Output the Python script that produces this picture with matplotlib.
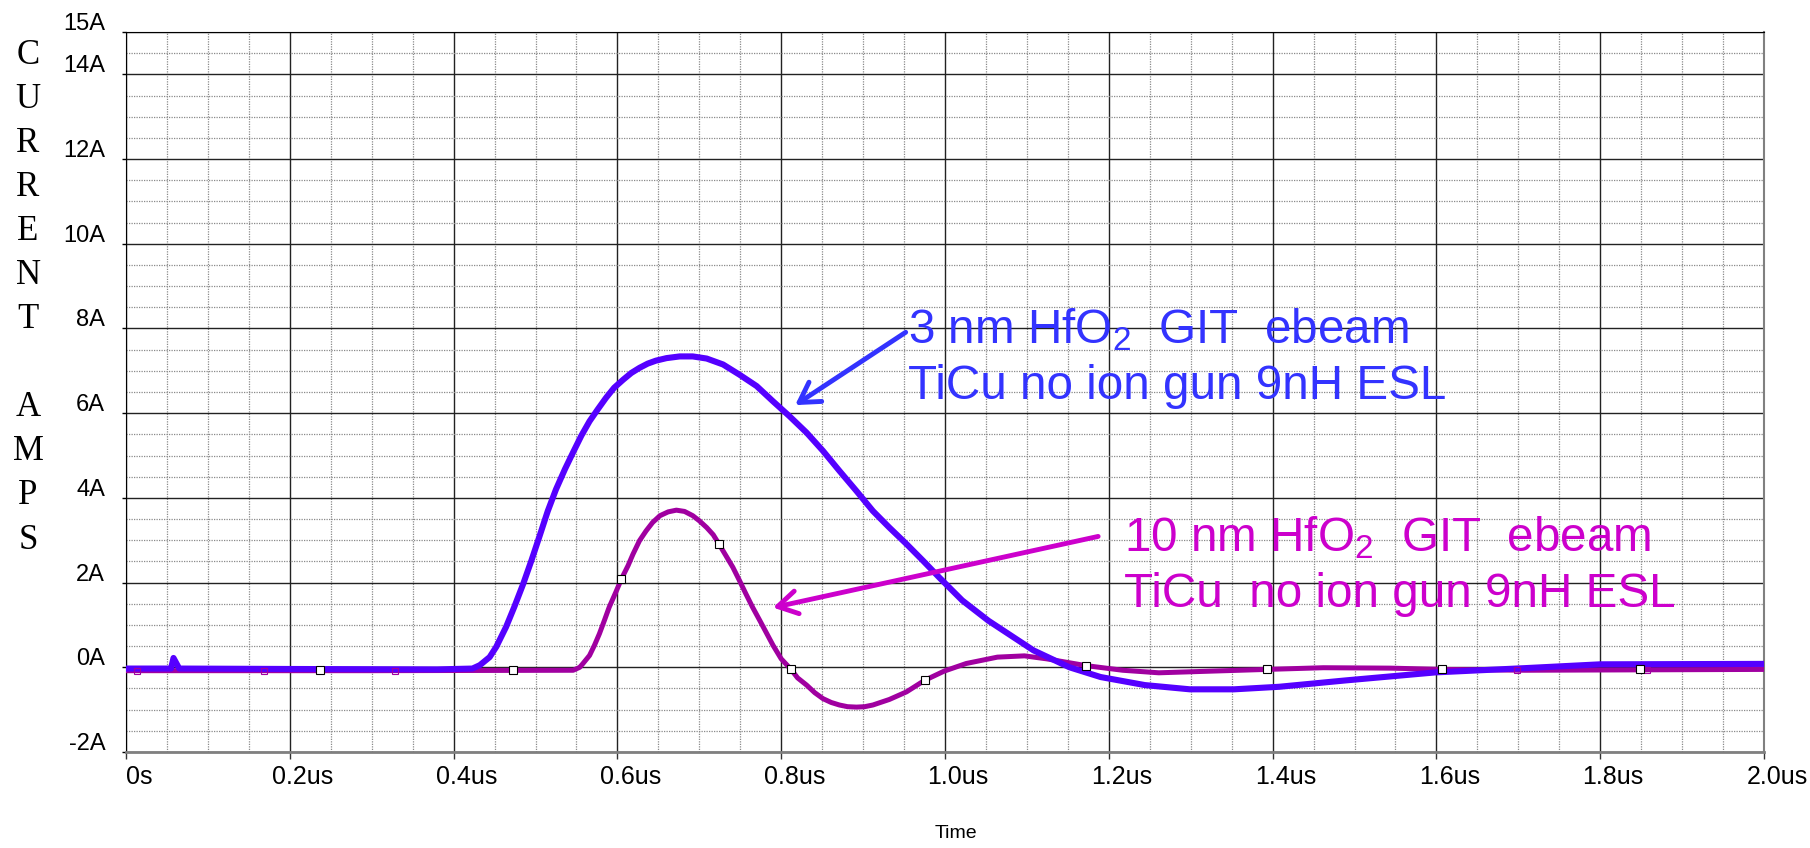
import matplotlib
matplotlib.use("Agg")
import matplotlib.pyplot as plt
from matplotlib.ticker import MultipleLocator
from matplotlib.transforms import ScaledTranslation

plt.rcParams["font.family"] = ["Liberation Sans", "DejaVu Sans"]
plt.rcParams["mathtext.default"] = "regular"

# 3 nm HfO2 trace: time (us), current (A)
t_3nm = [0.0, 0.055, 0.058, 0.065, 0.2, 0.38, 0.423, 0.432, 0.444, 0.452, 0.464,
         0.474, 0.485, 0.495, 0.505, 0.515, 0.525, 0.536, 0.546, 0.556, 0.566,
         0.576, 0.586, 0.596, 0.607, 0.617, 0.627, 0.637, 0.647, 0.660, 0.676,
         0.692, 0.709, 0.729, 0.749, 0.770, 0.790, 0.810, 0.831, 0.851, 0.871,
         0.892, 0.912, 0.932, 0.953, 0.973, 0.993, 1.021, 1.053, 1.108, 1.152,
         1.19, 1.244, 1.299, 1.353, 1.408, 1.489, 1.599, 1.708, 1.8, 2.0]
i_3nm = [-0.03, -0.03, 0.22, -0.03, -0.04, -0.05, -0.03, 0.05, 0.24, 0.48, 0.95,
         1.42, 1.97, 2.52, 3.1, 3.69, 4.2, 4.68, 5.08, 5.47, 5.81,
         6.09, 6.36, 6.6, 6.79, 6.95, 7.07, 7.17, 7.24, 7.30, 7.34,
         7.34, 7.29, 7.15, 6.91, 6.64, 6.28, 5.93, 5.54, 5.11, 4.64,
         4.16, 3.69, 3.30, 2.91, 2.52, 2.12, 1.58, 1.1, 0.4, 0.0,
         -0.23, -0.42, -0.52, -0.52, -0.46, -0.31, -0.12, -0.02, 0.07, 0.08]

# 10 nm HfO2 trace
t_10nm = [0.0, 0.3, 0.546, 0.554, 0.558, 0.566, 0.572, 0.578, 0.584, 0.590,
          0.598, 0.605, 0.613, 0.619, 0.627, 0.635, 0.643, 0.652, 0.662, 0.672,
          0.682, 0.692, 0.700, 0.709, 0.717, 0.724, 0.733, 0.741, 0.749, 0.757,
          0.765, 0.774, 0.782, 0.790, 0.800, 0.812, 0.820, 0.831, 0.841, 0.851,
          0.861, 0.871, 0.881, 0.892, 0.902, 0.912, 0.932, 0.953, 0.975, 0.999,
          1.026, 1.064, 1.097, 1.124, 1.172, 1.217, 1.261, 1.326, 1.393, 1.462,
          1.544, 1.607, 1.708, 2.0]
i_10nm = [-0.08, -0.08, -0.07, 0.0, 0.09, 0.28, 0.52, 0.79, 1.1, 1.42,
          1.77, 2.09, 2.4, 2.67, 2.99, 3.22, 3.42, 3.58, 3.67, 3.71,
          3.68, 3.58, 3.46, 3.30, 3.13, 2.91, 2.62, 2.36, 2.05, 1.73,
          1.42, 1.1, 0.81, 0.52, 0.2, -0.05, -0.25, -0.42, -0.6, -0.74,
          -0.83, -0.89, -0.93, -0.94, -0.93, -0.89, -0.76, -0.58, -0.31, -0.09,
          0.09, 0.24, 0.27, 0.2, 0.04, -0.07, -0.13, -0.09, -0.05, -0.01,
          -0.02, -0.05, -0.07, -0.05]

# probe markers
t_mark = [0.237, 0.472, 0.605, 0.724, 0.812, 0.975, 1.172, 1.393, 1.607, 1.848]
i_mark = [-0.07, -0.07, 2.09, 2.91, -0.05, -0.31, 0.04, -0.05, -0.05, -0.05]
t_mark2 = [0.013, 0.168, 0.328, 1.698, 1.857]
i_mark2 = [-0.08, -0.08, -0.08, -0.07, -0.06]

x_ticks = [0.0, 0.2, 0.4, 0.6, 0.8, 1.0, 1.2, 1.4, 1.6, 1.8, 2.0]
x_labels = ["0s", "0.2us", "0.4us", "0.6us", "0.8us", "1.0us", "1.2us",
            "1.4us", "1.6us", "1.8us", "2.0us"]
y_ticks = [-2, 0, 2, 4, 6, 8, 10, 12, 14, 15]
y_labels = ["-2A", "0A", "2A", "4A", "6A", "8A", "10A", "12A", "14A", "15A"]
y_title = "CURRENT AMPS"

BLUE = "#5500ff"
MAG = "#a000a0"
BLUE_TXT = "#3333ff"
MAG_TXT = "#cc00cc"

W, H = 1810, 848
fig = plt.figure(figsize=(W / 100, H / 100), dpi=100)
ax = fig.add_axes([126 / W, (H - 752) / H, (1764 - 126) / W, (752 - 32) / H])

ax.plot(t_10nm, i_10nm, color=MAG, lw=3.6, solid_joinstyle="round",
        solid_capstyle="butt", zorder=3)
ax.plot(t_3nm, i_3nm, color=BLUE, lw=4.4, solid_joinstyle="round",
        solid_capstyle="butt", zorder=4)
ax.plot(t_mark2, i_mark2, ls="none", marker="s", ms=5, mfc="none", mec=MAG,
        mew=0.8, zorder=5)
ax.plot(t_mark, i_mark, ls="none", marker="s", ms=5.5, mfc="white", mec="black",
        mew=0.8, zorder=6)

ax.set_xlim(0, 2.0)
ax.set_ylim(-2, 15)
ax.set_xticks(x_ticks, x_labels)
ax.set_yticks(y_ticks, y_labels)
ax.xaxis.set_minor_locator(MultipleLocator(0.05))
ax.yaxis.set_minor_locator(MultipleLocator(0.5))

ax.grid(which="major", color="#222222", lw=1.0, ls="-", zorder=0)
ax.grid(which="minor", color="#8a8a8a", lw=0.9, ls=(0, (1, 1)), zorder=0)
ax.set_axisbelow(True)

ax.tick_params(axis="x", which="major", length=5, width=1, color="#333333",
               labelsize=18, pad=4)
ax.tick_params(axis="y", which="major", length=3, width=1, labelsize=17, pad=12)
ax.tick_params(which="minor", length=0)

off = ScaledTranslation(13 / 100, 0, fig.dpi_scale_trans)
for lab in ax.get_xticklabels():
    lab.set_transform(lab.get_transform() + off)
up = ScaledTranslation(0, 2 / 100, fig.dpi_scale_trans)
for lab in ax.get_yticklabels():
    lab.set_verticalalignment("baseline")
    lab.set_transform(lab.get_transform() + up)

ax.spines["left"].set_color("black")
ax.spines["top"].set_color("black")
ax.spines["bottom"].set_color("#808080")
ax.spines["bottom"].set_linewidth(2)
ax.spines["right"].set_color("#808080")
ax.spines["right"].set_linewidth(1.5)

# vertical axis title, one letter per row
for k, ch in enumerate(y_title):
    if ch != " ":
        fig.text(28 / W, 1 - (55 + 44.1 * k) / H, ch, ha="center", va="center",
                 family="Liberation Serif", size=25)

fig.text(956 / W, 1 - 833 / H, "Time", ha="center", va="center", size=14)

# annotations
ax.text(0.955, 7.65, "3 nm HfO$_2$  GIT  ebeam", color=BLUE_TXT, size=34.3,
        va="baseline", ha="left", zorder=7)
ax.text(0.955, 6.33, "TiCu no ion gun 9nH ESL", color=BLUE_TXT, size=34.3,
        va="baseline", ha="left", zorder=7)
ax.text(1.219, 2.75, "10 nm HfO$_2$  GIT  ebeam", color=MAG_TXT, size=34.3,
        va="baseline", ha="left", zorder=7)
ax.text(1.219, 1.42, "TiCu  no ion gun 9nH ESL", color=MAG_TXT, size=34.3,
        va="baseline", ha="left", zorder=7)

ax.annotate("", xy=(0.817, 6.19), xytext=(0.952, 7.91),
            arrowprops=dict(arrowstyle="->,head_length=1.4,head_width=0.83",
                            color=BLUE_TXT, lw=3.5, shrinkA=0, shrinkB=0),
            zorder=8)
ax.annotate("", xy=(0.790, 1.41), xytext=(1.187, 3.09),
            arrowprops=dict(arrowstyle="->,head_length=1.4,head_width=0.83",
                            color=MAG_TXT, lw=3.5, shrinkA=0, shrinkB=0),
            zorder=8)

fig.savefig("out.png", dpi=100)
